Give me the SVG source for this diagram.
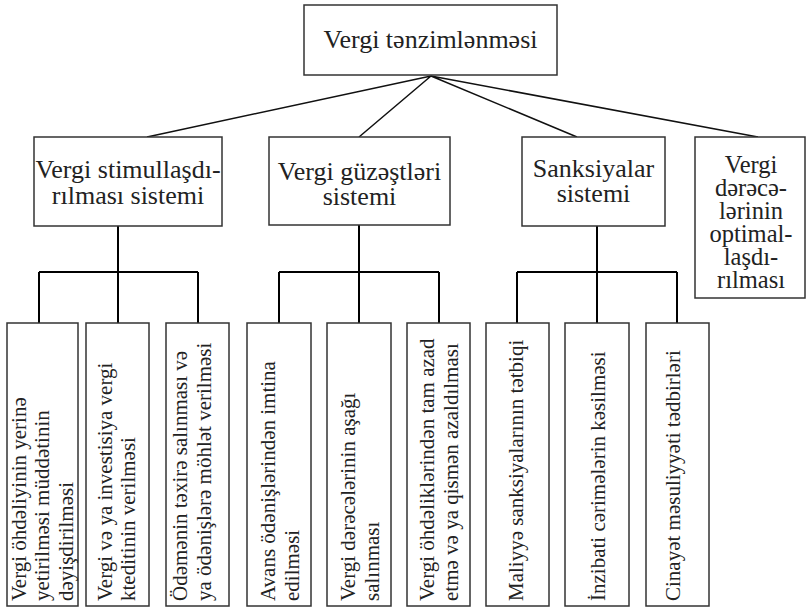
<svg xmlns="http://www.w3.org/2000/svg" width="806" height="609" viewBox="0 0 806 609">
<style>
.box{fill:#fff;stroke:#333;stroke-width:1.5}
.t{font-family:"Liberation Serif","Times New Roman",serif;fill:#222}
.big{font-size:26px;text-anchor:middle}
.opt{font-size:24.5px;text-anchor:middle}
.leaf{font-size:21px}
.diag{stroke:#111;stroke-width:1.5;fill:none}
.bus{stroke:#000;stroke-width:2;fill:none}
</style>
<rect width="806" height="609" fill="#fff"/>
<g id="connectors">
<path class="diag" d="M431 76L147 137M431 76L359 137M431 76L577 137M431 76L758 137"/>
<path class="bus" d="M118 226V272M39 272H198M39 272V323M118 272V323M198 272V323"/>
<path class="bus" d="M359 225V272M279 272H439M279 272V323M359 272V323M439 272V323"/>
<path class="bus" d="M597 226V272M517 272H677M517 272V323M597 272V323M677 272V323"/>
</g>
<g id="root">
<rect class="box" x="304" y="5" width="253" height="70"/>
<text class="t big" x="430.5" y="48">Vergi tənzimlənməsi</text>
</g>
<g id="n-stimul">
<rect class="box" x="34" y="137" width="188" height="89"/>
<text class="t big"><tspan x="128" y="178">Vergi stimullaşdı-</tspan><tspan x="128" y="204">rılması sistemi</tspan></text>
</g>
<g id="n-guzest">
<rect class="box" x="269" y="137" width="181" height="88"/>
<text class="t big"><tspan x="359.5" y="180">Vergi güzəştləri</tspan><tspan x="359.5" y="205">sistemi</tspan></text>
</g>
<g id="n-sanksiya">
<rect class="box" x="522" y="137" width="143" height="89"/>
<text class="t big"><tspan x="593.5" y="177">Sanksiyalar</tspan><tspan x="593.5" y="202">sistemi</tspan></text>
</g>
<g id="n-optimal">
<rect class="box" x="695" y="137" width="110" height="161"/>
<text class="t opt"><tspan x="751" y="173">Vergi</tspan><tspan x="751" y="196">dərəcə-</tspan><tspan x="751" y="219">lərinin</tspan><tspan x="751" y="242">optimal-</tspan><tspan x="751" y="265">laşdı-</tspan><tspan x="751" y="288">rılması</tspan></text>
</g>
<g id="l1">
<rect class="box" x="7" y="323" width="71" height="283"/>
<text class="t leaf" transform="translate(0 601) rotate(-90)"><tspan x="0" y="25.5">Vergi öhdəliyinin yerinə</tspan><tspan x="0" y="49">yetirilməsi müddətinin</tspan><tspan x="0" y="72.5">dəyişdirilməsi</tspan></text>
</g>
<g id="l2">
<rect class="box" x="86" y="323" width="63" height="283"/>
<text class="t leaf" transform="translate(0 601) rotate(-90)"><tspan x="0" y="111.5">Vergi və ya investisiya vergi</tspan><tspan x="0" y="135">kteditinin verilməsi</tspan></text>
</g>
<g id="l3">
<rect class="box" x="166" y="323" width="63" height="283"/>
<text class="t leaf" transform="translate(0 601) rotate(-90)"><tspan x="0" y="187">Ödəmənin təxirə salınması və</tspan><tspan x="0" y="210.5">ya ödənişlərə möhlət verilməsi</tspan></text>
</g>
<g id="l4">
<rect class="box" x="247" y="323" width="64" height="283"/>
<text class="t leaf" transform="translate(0 601) rotate(-90)"><tspan x="0" y="275">Avans ödənişlərindən imtina</tspan><tspan x="0" y="299">edilməsi</tspan></text>
</g>
<g id="l5">
<rect class="box" x="327" y="323" width="64" height="283"/>
<text class="t leaf" transform="translate(0 601) rotate(-90)"><tspan x="0" y="355">Vergi dərəcələrinin aşağı</tspan><tspan x="0" y="379">salınması</tspan></text>
</g>
<g id="l6">
<rect class="box" x="407" y="323" width="63" height="283"/>
<text class="t leaf" transform="translate(0 601) rotate(-90)"><tspan x="0" y="434">Vergi öhdəliklərindən tam azad</tspan><tspan x="0" y="457.5">etmə və ya qismən azaldılması</tspan></text>
</g>
<g id="l7">
<rect class="box" x="486" y="323" width="63" height="283"/>
<text class="t leaf" transform="translate(523 601) rotate(-90)">Maliyyə sanksiyalarının tətbiqi</text>
</g>
<g id="l8">
<rect class="box" x="565" y="323" width="64" height="283"/>
<text class="t leaf" transform="translate(605 601) rotate(-90)">İnzibati cərimələrin kəsilməsi</text>
</g>
<g id="l9">
<rect class="box" x="646" y="323" width="63" height="283"/>
<text class="t leaf" transform="translate(680 601) rotate(-90)">Cinayət məsuliyyəti tədbirləri</text>
</g>
</svg>
